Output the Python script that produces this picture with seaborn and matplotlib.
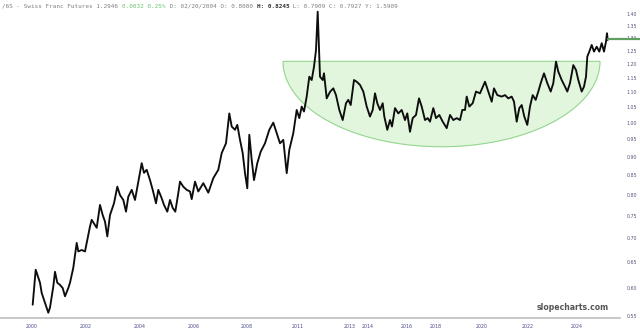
import numpy as np
import matplotlib
matplotlib.use("Agg")
import matplotlib.pyplot as plt
import seaborn as sns
from matplotlib.ticker import NullLocator, NullFormatter

# ---------------- data ----------------
t = [0.7, 2.0, 3.7, 8.0, 9.7, 13.0, 16.3, 18.0, 21.3, 23.0, 25.3, 28.0, 30.7, 33.0,
     36.3, 38.0, 41.3, 44.7, 46.3, 49.7, 53.0, 54.7, 58.0, 59.7, 63.0, 64.7, 68.0,
     70.7, 73.0, 75.3, 78.0, 79.7, 82.0, 85.3, 88.0, 91.3, 94.0, 96.3, 99.7, 103.0,
     106.3, 109.7, 112.0, 114.7, 118.0, 120.7, 124.0, 126.3, 129.7, 132.0, 135.3,
     138.0, 140.7, 143.3, 146.3, 148.0, 151.3, 154.7, 158.0, 159.7, 163.0, 166.3,
     171.3, 176.3, 181.3, 186.3, 189.7, 194.0, 197.3, 199.7, 203.0, 205.3, 208.0,
     210.7, 213.0, 215.3, 217.3, 219.7, 222.0, 225.3, 228.7, 233.0, 237.3, 241.3,
     244.7, 248.0, 251.3, 254.7, 257.3, 261.3, 264.7, 267.3, 269.7, 272.0, 274.7,
     277.3, 279.7, 282.0, 284.0, 285.7, 286.7, 288.0, 290.7, 292.0, 294.7, 298.0,
     301.3, 304.0, 307.3, 310.7, 314.0, 316.3, 318.7, 322.0, 324.7, 328.0, 331.3,
     334.7, 338.0, 340.7, 343.0, 345.3, 348.0, 350.7, 352.3, 355.3, 358.0, 360.0,
     363.0, 366.3, 369.7, 373.0, 375.3, 378.0, 380.7, 384.0, 387.0, 389.7, 393.0,
     395.7, 398.0, 401.3, 404.0, 407.3, 410.7, 414.7, 418.0, 421.3, 424.7, 428.0,
     430.3, 433.0, 434.7, 437.3, 440.7, 444.0, 448.0, 453.0, 456.3, 459.7, 462.0,
     465.3, 469.7, 473.0, 476.3, 479.7, 482.0, 484.7, 487.3, 489.7, 492.3, 495.3,
     498.0, 500.7, 503.7, 506.3, 508.7, 512.0, 515.3, 518.7, 521.3, 524.0, 526.3,
     529.7, 533.0, 535.3, 538.0, 541.3, 544.0, 546.3, 549.7, 552.0, 554.0, 555.3,
     557.3, 559.7, 562.0, 564.7, 567.3, 569.7, 572.0, 574.0, 575.0, 575.7]
price = [0.569, 0.596, 0.634, 0.609, 0.590, 0.572, 0.555, 0.564, 0.602, 0.630,
         0.609, 0.605, 0.599, 0.584, 0.599, 0.609, 0.638, 0.689, 0.671, 0.674,
         0.671, 0.689, 0.725, 0.740, 0.728, 0.722, 0.775, 0.751, 0.736, 0.703,
         0.751, 0.763, 0.779, 0.820, 0.799, 0.787, 0.759, 0.795, 0.812, 0.787,
         0.833, 0.882, 0.856, 0.864, 0.837, 0.812, 0.779, 0.812, 0.791, 0.775,
         0.759, 0.787, 0.768, 0.759, 0.804, 0.833, 0.820, 0.812, 0.808, 0.789,
         0.833, 0.808, 0.829, 0.805, 0.842, 0.864, 0.910, 0.938, 1.029, 0.988,
         0.978, 0.993, 0.948, 0.910, 0.855, 0.816, 0.963, 0.891, 0.837, 0.882,
         0.914, 0.938, 0.978, 1.000, 0.968, 0.938, 0.948, 0.855, 0.919, 0.968,
         1.040, 1.014, 1.051, 1.035, 1.084, 1.153, 1.141, 1.189, 1.252, 1.410,
         1.292, 1.153, 1.141, 1.165, 1.078, 1.100, 1.112, 1.089, 1.040, 1.008,
         1.062, 1.073, 1.056, 1.141, 1.135, 1.124, 1.101, 1.051, 1.019, 1.040,
         1.095, 1.062, 1.040, 1.062, 1.019, 0.978, 1.008, 0.988, 1.046, 1.029,
         1.040, 1.008, 1.029, 0.972, 1.014, 1.024, 1.078, 1.051, 1.008, 1.014,
         1.003, 1.046, 1.014, 1.024, 1.003, 0.983, 1.024, 1.008, 1.014, 1.008,
         1.040, 1.040, 1.084, 1.051, 1.062, 1.101, 1.095, 1.135, 1.101, 1.067,
         1.112, 1.089, 1.084, 1.089, 1.078, 1.084, 1.067, 1.003, 1.046, 1.056,
         1.019, 0.993, 1.051, 1.089, 1.073, 1.101, 1.130, 1.165, 1.130, 1.101,
         1.130, 1.208, 1.171, 1.141, 1.118, 1.101, 1.130, 1.195, 1.177, 1.141,
         1.101, 1.118, 1.153, 1.227, 1.246, 1.272, 1.246, 1.265, 1.246, 1.279,
         1.246, 1.285, 1.319, 1.292]
n = min(len(t), len(price))
t, price = t[:n], price[:n]

tick_pos = [0, 54, 108, 162, 215, 266, 318, 336, 375, 404, 450, 496, 545]
tick_labels = ["2000", "2002", "2004", "2006", "2008", "2011", "2013", "2014",
               "2016", "2018", "2020", "2022", "2024"]
ytick_vals = [0.55, 0.60, 0.65, 0.70, 0.75, 0.80, 0.85, 0.90, 0.95, 1.00,
              1.05, 1.10, 1.15, 1.20, 1.25, 1.30, 1.35, 1.40]
last_price = 1.2946
bowl_start, bowl_end = 251, 568
bowl_top, bowl_bottom = 1.209, 0.928

header_parts = [
    ("/6S - Swiss Franc Futures 1.2946 ", "#808080", "normal"),
    ("0.0032 0.25%", "#6cc46c", "normal"),
    (" D: 02/20/2004 O: 0.8080 ", "#808080", "normal"),
    ("H: 0.8245", "#333333", "bold"),
    (" L: 0.7909 C: 0.7927 Y: 1.5909", "#808080", "normal"),
]

# ---------------- figure ----------------
sns.set_theme(style="white")
plt.rcParams["font.family"] = ["DejaVu Sans"]
W, H, DPI = 640, 335, 100
fig = plt.figure(figsize=(W / DPI, H / DPI), dpi=DPI)
fig.patch.set_facecolor("white")
ax = fig.add_axes([0, 17 / H, 620 / W, 318 / H])
ax.set_facecolor("white")

# bowl (half ellipse in log-price space)
theta = np.linspace(np.pi, 2 * np.pi, 300)
cx = (bowl_start + bowl_end) / 2
a = (bowl_end - bowl_start) / 2
lt, lb = np.log(bowl_top), np.log(bowl_bottom)
bx = cx + a * np.cos(theta)
by = np.exp(lt + (lt - lb) * np.sin(theta))
ax.fill(bx, by, facecolor="#e1f6dc", edgecolor="#93d68e", lw=0.8, zorder=1)

sns.lineplot(x=t, y=price, ax=ax, color="#0d0d0d", lw=1.35,
             estimator=None, sort=False, zorder=3)

ax.set_yscale("log")
ax.set_ylim(0.546, 1.462)
ax.set_xlim(-32, 588)

# current price line
ax.plot([t[-1], ax.get_xlim()[1] + 60], [last_price, last_price],
        color="#5f9f5f", lw=1.6, clip_on=False, zorder=4)

ax.yaxis.tick_right()
ax.yaxis.set_minor_locator(NullLocator())
ax.yaxis.set_minor_formatter(NullFormatter())
ax.set_yticks(ytick_vals)
ax.set_yticklabels([f"{v:.2f}" for v in ytick_vals])
ax.tick_params(axis="y", length=0, pad=5, labelsize=3.4, labelcolor="#55557a")

ax.set_xticks(tick_pos)
ax.set_xticklabels(tick_labels)
ax.tick_params(axis="x", length=0, pad=4, labelsize=3.4, labelcolor="#4a4a8c")

for s in ["top", "right", "left"]:
    ax.spines[s].set_visible(False)
ax.spines["bottom"].set_color("#bdbdbd")
ax.spines["bottom"].set_linewidth(1.2)
ax.grid(False)

# header
fs = 4.35
char_w = 0.602 * fs * DPI / 72 / W
pos = 0
for txt, col, wt in header_parts:
    fig.text(2 / W + pos * char_w, 1 - 6 / H, txt, family="DejaVu Sans Mono",
             fontsize=fs, color=col, weight=wt, va="center", ha="left")
    pos += len(txt)

# watermark
fig.text(573 / W, 1 - 307 / H, "slopecharts.com", fontsize=5.6, weight="bold",
         color="#555555", ha="center", va="center")

fig.savefig("out.png", dpi=DPI, facecolor="white")
